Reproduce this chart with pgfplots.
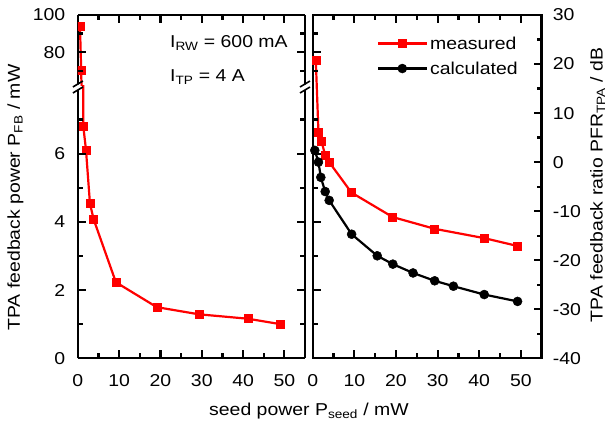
\documentclass[border=0pt]{standalone}
\usepackage{fontspec}
\setmainfont{Liberation Sans}[FakeStretch=1.13]
\usepackage{pgfplots}
\usepackage{pgfplotstable}
\pgfplotsset{compat=1.18}
\definecolor{mred}{RGB}{255,0,0}

\pgfplotstableread{
x y
0.5 94
0.8 70
1.3 6.81
1.96 6.11
2.92 4.54
3.8 4.08
9.2 2.23
19.1 1.50
29.3 1.29
41.2 1.16
49.1 1.00
}\pfb

\pgfplotstableread{
x y
0.75 20.7
1.38 6.1
2.1 4.3
3.0 1.4
3.96 0.0
9.3 -6.2
19.2 -11.2
29.3 -13.6
41.2 -15.5
49.2 -17.1
}\measured

\pgfplotstableread{
x y
0.5 2.4
1.38 0.0
1.95 -3.1
3.0 -6.0
3.96 -7.8
9.35 -14.7
15.5 -19.1
19.25 -20.8
24.1 -22.6
29.3 -24.2
33.8 -25.3
41.2 -27.0
49.2 -28.4
}\calculated

\newcommand{\myfont}{\fontsize{17.2pt}{20pt}\selectfont}

\pgfplotsset{
 base/.style={
  scale only axis, anchor=south west, xmin=0, xmax=55,
  axis line style={line width=2.4pt},
  tick align=inside,
  major tick length=0pt, minor tick length=0pt,
  /pgf/number format/assume math mode=true,
  xtick={0,10,...,50}, minor xtick={5,15,...,45},
  xticklabel style={anchor=base, yshift=-28pt, inner sep=0pt},
  tick label style={font=\myfont},
 },
 lowerP/.style={ymin=0, ymax=8, ytick={0,2,4,6}, minor ytick={1,3,5,7}, height=272.8pt},
 upperP/.style={ymin=62, ymax=100, ytick={80,100}, minor ytick={70,90}, height=70.5pt},
 meas/.style={mred, line width=2.2pt, mark=square*, mark size=4pt, mark options={solid, fill=mred, line width=0.5pt}},
 calc/.style={black, line width=2.2pt, mark=*, mark size=4.5pt, mark options={solid, fill=black, line width=0.5pt}},
}
\tikzset{tk/.style={black, line width=2.2pt}}

\begin{document}
\begin{tikzpicture}[font=\myfont]
\useasboundingbox (0,0) rectangle (608pt,422pt);

% ---------- left panel, lower part
\begin{axis}[base, lowerP, at={(77.9pt,63.7pt)}, width=227.1pt, clip marker paths=true,
  axis x line*=bottom, axis y line*=box, yticklabel pos=left,
  yticklabel style={anchor=east, inner sep=0pt, xshift=-12.5pt}]
\addplot[meas] table {\pfb};
\end{axis}
% ---------- left panel, upper part
\begin{axis}[base, upperP, at={(77.9pt,336.5pt)}, width=227.1pt, clip marker paths=true,
  axis x line*=top, axis y line*=box, xticklabels={}, yticklabel pos=left,
  yticklabel style={anchor=east, inner sep=0pt, xshift=-12.5pt}]
\addplot[meas] table {\pfb};
\end{axis}

% ---------- right panel, dB scale
\begin{axis}[base, at={(312.7pt,63.7pt)}, width=229pt, height=343.3pt,
  ymin=-40, ymax=30, ytick={-40,-30,...,30}, minor ytick={-35,-25,...,25},
  yticklabel pos=right,
  yticklabel style={anchor=west, inner sep=0pt, xshift=11pt},
  legend style={draw=none, fill=none, at={(0.28,0.945)}, anchor=north west,
    row sep=6pt, column sep=0pt, inner sep=0pt, font=\myfont,
    nodes={inner sep=2.5pt}},
  legend cell align=left,
  legend image code/.code={\draw[#1, mark repeat=2, mark phase=2] plot coordinates {(0pt,0pt) (24.2pt,0pt) (48.4pt,0pt)};}]
\addplot[meas] table {\measured};
\addlegendentry{measured}
\addplot[calc] table {\calculated};
\addlegendentry{calculated}
\end{axis}

% ---------- tick marks (inside)
\foreach \v in {10,20,30,40,50} {
  \draw[tk] ({77.9pt+\v*4.12909pt},63.7pt) -- ++(0,8pt);
  \draw[tk] ({77.9pt+\v*4.12909pt},407pt) -- ++(0,-8pt);
  \draw[tk] ({312.7pt+\v*4.16364pt},63.7pt) -- ++(0,8pt);
  \draw[tk] ({312.7pt+\v*4.16364pt},407pt) -- ++(0,-8pt);
}
\foreach \v in {5,15,25,35,45} {
  \draw[tk] ({77.9pt+\v*4.12909pt},63.7pt) -- ++(0,5pt);
  \draw[tk] ({77.9pt+\v*4.12909pt},407pt) -- ++(0,-5pt);
  \draw[tk] ({312.7pt+\v*4.16364pt},63.7pt) -- ++(0,5pt);
  \draw[tk] ({312.7pt+\v*4.16364pt},407pt) -- ++(0,-5pt);
}
\foreach \v/\l in {1/5,2/8,3/5,4/8,5/5,6/8,7/5} {
  \draw[tk] (77.9pt,{63.7pt+\v*34.1pt}) -- ++(\l pt,0);
  \draw[tk] (305pt,{63.7pt+\v*34.1pt}) -- ++(-\l pt,0);
  \draw[tk] (312.7pt,{63.7pt+\v*34.1pt}) -- ++(\l pt,0);
}
\foreach \v/\l in {70/5,80/8,90/5} {
  \draw[tk] (77.9pt,{336.5pt+(\v-62)*1.85526pt}) -- ++(\l pt,0);
  \draw[tk] (305pt,{336.5pt+(\v-62)*1.85526pt}) -- ++(-\l pt,0);
  \draw[tk] (312.7pt,{336.5pt+(\v-62)*1.85526pt}) -- ++(\l pt,0);
}
\foreach \v/\l in {-35/5,-30/8,-25/5,-20/8,-15/5,-10/8,-5/5,0/8,5/5,10/8,15/5,20/8,25/5} {
  \draw[tk] (541.7pt,{63.7pt+(\v+40)*4.90429pt}) -- ++(-\l pt,0);
}

% ---------- axis breaks
\foreach \bx in {77.9, 305.0} {
  \fill[white] ({\bx pt-2.5pt}, 330.5pt) -- ({\bx pt+2.5pt}, 333.5pt) -- ({\bx pt+2.5pt}, 338.5pt) -- ({\bx pt-2.5pt}, 335.5pt) -- cycle;
  \draw[line width=1.6pt] ({\bx pt-5pt}, 329pt) -- ({\bx pt+5pt}, 335pt);
  \draw[line width=1.6pt] ({\bx pt-5pt}, 335pt) -- ({\bx pt+5pt}, 341pt);
}

% ---------- texts
\node[anchor=base west, inner sep=0pt] at (170pt,374pt) {I\textsubscript{RW} = 600 mA};
\node[anchor=base west, inner sep=0pt] at (170pt,340.3pt) {I\textsubscript{TP} = 4 A};
\node[rotate=90, anchor=base, inner sep=0pt] at (20pt,224.5pt) {TPA feedback power P\textsubscript{FB} / mW};
\node[rotate=90, anchor=base, inner sep=0pt] at (602.5pt,237pt) {TPA feedback ratio PFR\textsubscript{TPA} / dB};
\node[anchor=base, inner sep=0pt] at (309pt,6pt) {seed power P\textsubscript{seed} / mW};
\end{tikzpicture}
\end{document}
